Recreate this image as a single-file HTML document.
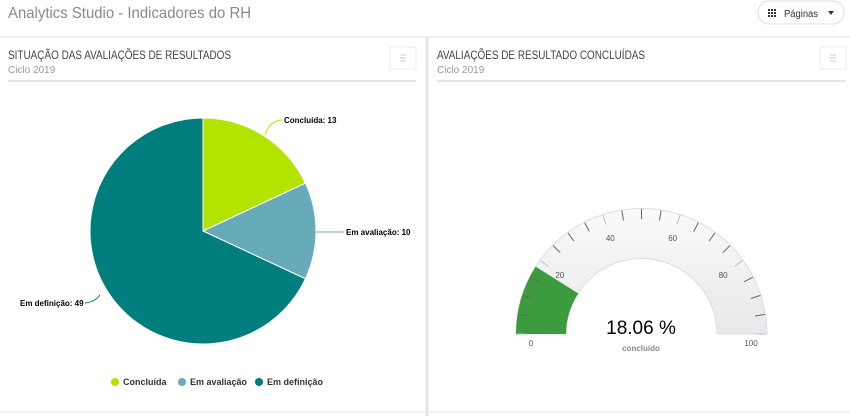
<!DOCTYPE html>
<html><head><meta charset="utf-8"><style>
html,body{margin:0;padding:0;background:#fff;width:850px;height:416px;overflow:hidden;font-family:"Liberation Sans",sans-serif}
</style></head><body>
<svg width="850" height="416" viewBox="0 0 850 416" xmlns="http://www.w3.org/2000/svg" font-family="Liberation Sans, sans-serif">
<rect width="850" height="416" fill="#fff"/>
<text x="8" y="18" font-size="16" fill="#8a8a8a" textLength="243" lengthAdjust="spacingAndGlyphs">Analytics Studio - Indicadores do RH</text>
<rect x="758" y="1" width="86" height="23" rx="11" fill="#fff" stroke="#ddd"/>
<g fill="#333"><rect x="768" y="9" width="2" height="2"/><rect x="771" y="9" width="2" height="2"/><rect x="774" y="9" width="2" height="2"/><rect x="768" y="12" width="2" height="2"/><rect x="771" y="12" width="2" height="2"/><rect x="774" y="12" width="2" height="2"/><rect x="768" y="15" width="2" height="2"/><rect x="771" y="15" width="2" height="2"/><rect x="774" y="15" width="2" height="2"/></g>
<text x="784" y="17" font-size="10" fill="#333" textLength="34" lengthAdjust="spacingAndGlyphs">Páginas</text>
<path d="M828 11 l6 0 l-3 4z" fill="#333"/>
<line x1="0" y1="37" x2="850" y2="37" stroke="#e5e5e5"/>
<line x1="427" y1="37" x2="427" y2="416" stroke="#e5e5e5" stroke-width="3"/>
<line x1="0" y1="412" x2="850" y2="412" stroke="#e5e5e5"/>
<text x="8" y="59" font-size="12" fill="#444" textLength="223" lengthAdjust="spacingAndGlyphs">SITUAÇÃO DAS AVALIAÇÕES DE RESULTADOS</text>
<text x="8" y="73" font-size="10" fill="#999">Ciclo 2019</text>
<rect x="390" y="47" width="26" height="22" fill="#fff" stroke="#eee"/>
<g stroke="#ccc"><line x1="400" y1="55" x2="406" y2="55"/><line x1="400" y1="58" x2="406" y2="58"/><line x1="400" y1="61" x2="406" y2="61"/></g>
<line x1="8" y1="81" x2="416" y2="81" stroke="#e5e5e5" stroke-width="2"/>
<text x="437" y="59" font-size="12" fill="#444" textLength="208" lengthAdjust="spacingAndGlyphs">AVALIAÇÕES DE RESULTADO CONCLUÍDAS</text>
<text x="437" y="73" font-size="10" fill="#999">Ciclo 2019</text>
<rect x="820" y="47" width="26" height="22" fill="#fff" stroke="#eee"/>
<g stroke="#ccc"><line x1="830" y1="55" x2="836" y2="55"/><line x1="830" y1="58" x2="836" y2="58"/><line x1="830" y1="61" x2="836" y2="61"/></g>
<line x1="437" y1="81" x2="846" y2="81" stroke="#e5e5e5" stroke-width="2"/>
<!-- pie -->
<path d="M203 231 L203 118 A113 113 0 0 1 305.4 183.2Z" fill="#b2e400" stroke="#fff"/>
<path d="M203 231 L305.4 183.2 A113 113 0 0 1 305.4 278.8Z" fill="#67abbb" stroke="#fff"/>
<path d="M203 231 L305.4 278.8 A113 113 0 1 1 203 118Z" fill="#007e7e" stroke="#fff"/>
<path d="M265 135 Q270 120 282 120" fill="none" stroke="#b2e400"/>
<text x="284" y="123" font-size="8" font-weight="bold" fill="#000">Concluída: 13</text>
<path d="M316 232 L344 232" fill="none" stroke="#67abbb"/>
<text x="346" y="235" font-size="8" font-weight="bold" fill="#000">Em avaliação: 10</text>
<path d="M100 295 Q95 302 85 303" fill="none" stroke="#007e7e"/>
<text x="20" y="306" font-size="8" font-weight="bold" fill="#000">Em definição: 49</text>
<circle cx="115" cy="382" r="4" fill="#b2e400"/><text x="123" y="385" font-size="9" fill="#333" font-weight="bold">Concluída</text>
<circle cx="182" cy="382" r="4" fill="#67abbb"/><text x="190" y="385" font-size="9" fill="#333" font-weight="bold">Em avaliação</text>
<circle cx="259" cy="382" r="4" fill="#007e7e"/><text x="267" y="385" font-size="9" fill="#333" font-weight="bold">Em definição</text>
<!-- gauge -->
<defs><linearGradient id="g" x1="0" y1="0" x2="0" y2="1"><stop offset="0" stop-color="#fafafa"/><stop offset="1" stop-color="#e8e8e8"/></linearGradient></defs>
<path d="M516 334 A125.5 125.5 0 0 1 767 334 L717 334 A75.5 75.5 0 0 0 566 334Z" fill="url(#g)" stroke="#ddd"/>
<path d="M516 334 A125.5 125.5 0 0 1 535.7 266.6 L578.3 293.5 A75.5 75.5 0 0 0 566 334Z" fill="#3c9b3c"/>
<g stroke="#666" stroke-width="1">
<line x1="518.0" y1="314.4" x2="527.9" y2="316.0"/>
<line x1="522.6" y1="295.4" x2="532.1" y2="298.5"/>
<line x1="530.1" y1="277.2" x2="539.0" y2="281.8"/>
<line x1="553.1" y1="245.6" x2="560.2" y2="252.7"/>
<line x1="568.0" y1="232.9" x2="573.9" y2="241.0"/>
<line x1="584.7" y1="222.6" x2="589.3" y2="231.5"/>
<line x1="621.9" y1="210.5" x2="623.5" y2="220.4"/>
<line x1="641.5" y1="209" x2="641.5" y2="219"/>
<line x1="661.1" y1="210.5" x2="659.5" y2="220.4"/>
<line x1="698.3" y1="222.6" x2="693.7" y2="231.5"/>
<line x1="715.0" y1="232.9" x2="709.1" y2="241.0"/>
<line x1="729.9" y1="245.6" x2="722.8" y2="252.7"/>
<line x1="752.9" y1="277.2" x2="744.0" y2="281.8"/>
<line x1="760.4" y1="295.4" x2="750.9" y2="298.5"/>
<line x1="765.0" y1="314.4" x2="755.1" y2="316.0"/>
</g>
<g stroke="#a8c0e0" stroke-width="1">
<line x1="516.5" y1="334" x2="526.5" y2="334"/>
<line x1="540.4" y1="260.5" x2="548.5" y2="266.4"/>
<line x1="602.9" y1="215.1" x2="606.0" y2="224.6"/>
<line x1="680.1" y1="215.1" x2="677.0" y2="224.6"/>
<line x1="742.6" y1="260.5" x2="734.5" y2="266.4"/>
<line x1="766.5" y1="334" x2="756.5" y2="334"/>
</g>
<g font-size="8" fill="#555" text-anchor="middle">
<text x="559.8" y="278">20</text>
<text x="610.3" y="241">40</text>
<text x="672.7" y="241">60</text>
<text x="723.2" y="278">80</text>
<text x="531" y="346">0</text>
<text x="751" y="346">100</text>
</g>
<text x="641" y="334" font-size="19" fill="#000" text-anchor="middle">18.06 %</text>
<text x="641" y="351" font-size="8" fill="#888" font-weight="bold" text-anchor="middle">concluído</text>
</svg>
</body></html>
